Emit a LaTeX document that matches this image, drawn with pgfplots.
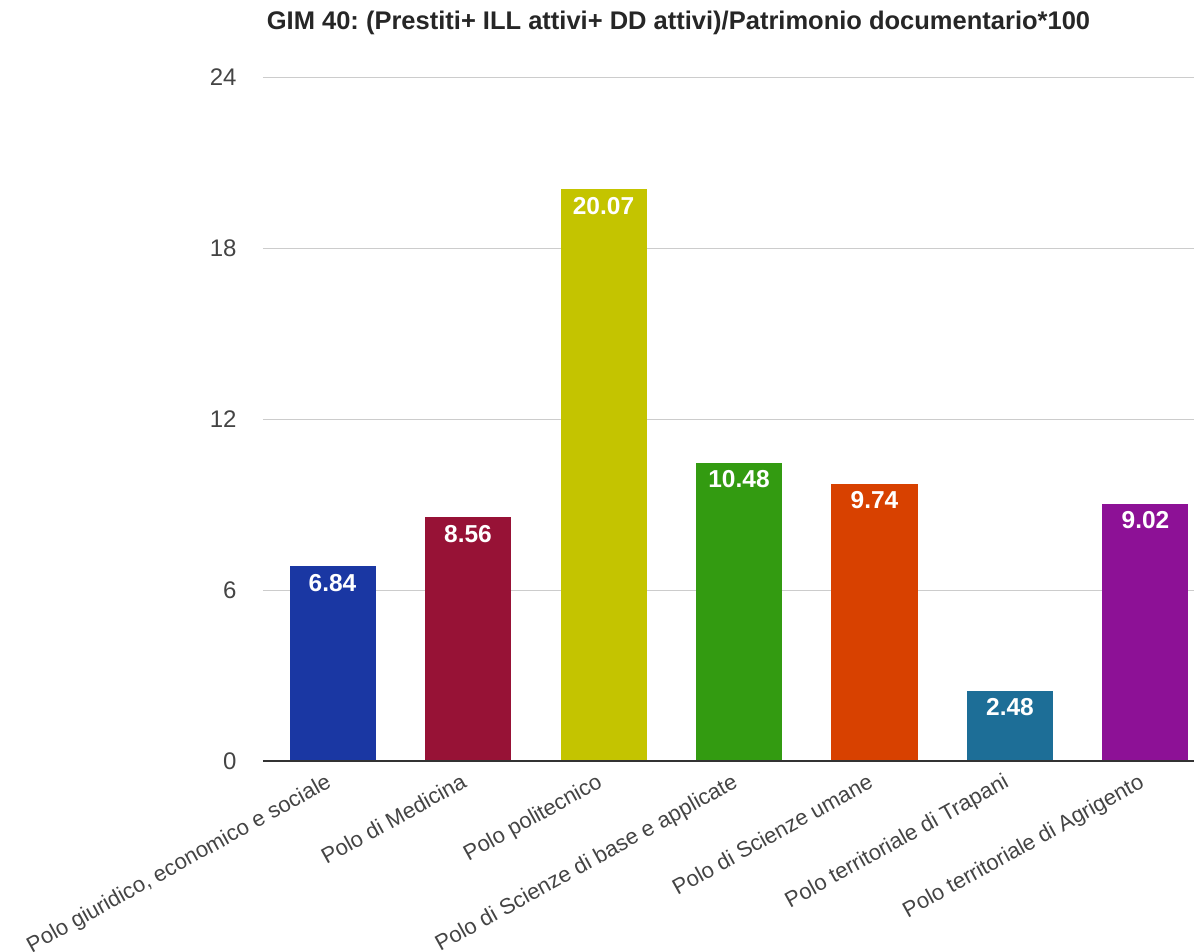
\documentclass[border=0pt]{standalone}
\usepackage{pgfplots}
\pgfplotsset{compat=1.18}
\usepackage{fontspec}
\setmainfont{Liberation Sans}
\frenchspacing
\definecolor{cA}{HTML}{1A37A3}
\definecolor{cB}{HTML}{971236}
\definecolor{cC}{HTML}{C4C400}
\definecolor{cD}{HTML}{339B11}
\definecolor{cE}{HTML}{D84100}
\definecolor{cF}{HTML}{1D6E97}
\definecolor{cG}{HTML}{8D1196}
\definecolor{gridc}{HTML}{CCCCCC}
\definecolor{labc}{HTML}{444444}
\definecolor{basec}{HTML}{333333}
\begin{document}
\begin{tikzpicture}
\path[use as bounding box] (-263pt,-189.7pt) rectangle (931pt,761.3pt);
\begin{axis}[
  at={(0pt,0pt)}, anchor=south west,
  scale only axis, width=931pt, height=684pt,
  xmin=-0.513, xmax=6.358, ymin=0, ymax=24,
  ytick={0,6,12,18,24},
  xtick={0,1,2,3,4,5,6},
  xticklabels={{Polo giuridico, economico e sociale},{Polo di Medicina},{Polo politecnico},{Polo di Scienze di base e applicate},{Polo di Scienze umane},{Polo territoriale di Trapani},{Polo territoriale di Agrigento}},
  axis line style={draw=none},
  major tick length=0pt,
  ymajorgrids, grid style={color=gridc, line width=1pt},
  /pgf/number format/assume math mode=true,
  yticklabel style={font=\fontsize{24}{24}\selectfont, color=labc, anchor=east, inner sep=0pt, xshift=-26.3pt},
  xticklabel style={font=\fontsize{22}{22}\selectfont, color=labc, yshift=-25pt, rotate=29, anchor=base east, inner sep=0pt},
  ybar, bar width=86pt,
  every axis plot/.append style={bar shift=0pt, draw=none},
  point meta=explicit symbolic,
  nodes near coords,
  every node near coord/.append style={anchor=north, yshift=-7.4pt, inner sep=0pt, color=white, font=\fontsize{24.5}{24.5}\selectfont\bfseries},
  clip=false,
]
\addplot[fill=cA] coordinates {(0,6.84) [6.84]};
\addplot[fill=cB] coordinates {(1,8.56) [8.56]};
\addplot[fill=cC] coordinates {(2,20.07) [20.07]};
\addplot[fill=cD] coordinates {(3,10.48) [10.48]};
\addplot[fill=cE] coordinates {(4,9.74) [9.74]};
\addplot[fill=cF] coordinates {(5,2.48) [2.48]};
\addplot[fill=cG] coordinates {(6,9.02) [9.02]};
\draw[color=basec, line width=2pt] (rel axis cs:0,0) -- (rel axis cs:1,0);
\node[anchor=base west, inner sep=0pt, xshift=3.7pt, yshift=47.3pt, color=black!85, font=\fontsize{25.5}{25.5}\selectfont\bfseries] at (rel axis cs:0,1) {GIM 40: (Prestiti+ ILL attivi+ DD attivi)/Patrimonio documentario*100};
\end{axis}
\end{tikzpicture}
\end{document}
